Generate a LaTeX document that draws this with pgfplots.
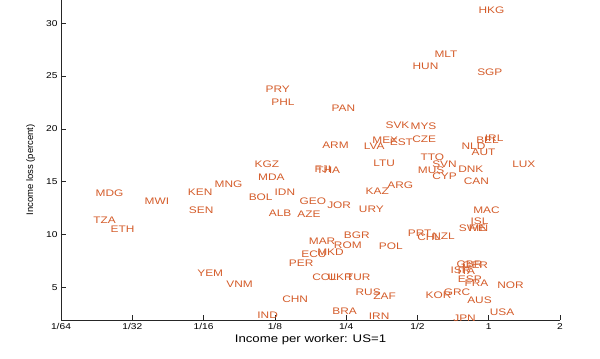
\documentclass[border=0pt]{standalone}
\usepackage{fontspec}
\setmainfont{Liberation Sans}
\usepackage{graphicx}
\usepackage{pgfplots}
\pgfplotsset{compat=1.18}
\usepackage{pgfplotstable}
\definecolor{lab}{RGB}{212,92,42}
\newcommand{\sx}[1]{\scalebox{1.2}[1]{#1}}
\newcommand{\slab}[1]{\scalebox{1.25}[1]{#1}}

% x = log2(income per worker, US=1), y = income loss (percent)
\pgfplotstableread{
x y label
-0.144 31.19 HKG
-0.762 27.09 MLT
-1.070 25.89 HUN
-0.163 25.32 SGP
-3.132 23.75 PRY
-3.052 22.52 PHL
-2.206 21.95 PAN
-1.449 20.37 SVK
-1.098 20.21 MYS
-1.074 19.01 CZE
-1.635 18.95 MEX
-1.389 18.73 EST
-1.753 18.31 LVA
-2.337 18.41 ARM
-0.177 18.95 BEL
-0.056 19.11 IRL
-0.383 18.38 NLD
-0.243 17.75 AUT
-0.958 17.27 TTO
-3.286 16.65 KGZ
-1.621 16.74 LTU
-0.794 16.65 SVN
0.328 16.65 LUX
-0.430 16.17 DNK
-2.445 16.15 FJI
-2.420 16.08 THA
-0.995 16.04 MUS
-0.794 15.47 CYP
-3.236 15.42 MDA
-0.351 15.07 CAN
-3.847 14.75 MNG
-1.425 14.62 ARG
-1.729 14.12 KAZ
-4.222 14.00 KEN
-3.006 14.00 IDN
-5.516 13.90 MDG
-3.369 13.48 BOL
-4.829 13.17 MWI
-2.655 13.17 GEO
-2.267 12.73 JOR
-1.823 12.41 URY
-4.208 12.32 SEN
-0.219 12.32 MAC
-3.086 12.01 ALB
-2.687 11.94 AZE
-5.548 11.37 TZA
-0.257 11.21 ISL
-0.421 10.59 SWE
-0.280 10.59 FIN
-5.306 10.52 ETH
-1.136 10.11 PRT
-2.034 9.95 BGR
-0.794 9.79 NZL
-1.004 9.70 CHL
-2.525 9.32 MAR
-2.174 9.01 ROM
-1.543 8.91 POL
-2.407 8.31 MKD
-2.631 8.12 ECU
-2.805 7.27 PER
-0.453 7.21 GBR
-0.373 7.11 GER
-0.537 6.57 ISR
-0.440 6.50 ITA
-4.090 6.33 YEM
-2.477 5.91 COL
-2.262 5.91 UKR
-2.004 5.91 TUR
-0.434 5.76 ESP
-0.341 5.38 FRA
-3.683 5.31 VNM
0.118 5.22 NOR
-1.870 4.49 RUS
-0.631 4.49 GRC
-0.888 4.27 KOR
-1.621 4.11 ZAF
-2.898 3.90 CHN
-0.303 3.80 AUS
-2.196 2.76 BRA
0.014 2.59 USA
-3.248 2.31 IND
-1.683 2.22 IRN
-0.499 2.06 JPN
}\data

\begin{document}
\begin{tikzpicture}
\path[use as bounding box] (0,0) rectangle (600bp,359bp);
\begin{axis}[
  at={(61bp,39bp)}, anchor=south west,
  scale only axis, width=499bp, height=320bp,
  xmin=-6, xmax=1, ymin=1.9, ymax=32.2,
  axis x line*=bottom, axis y line*=left,
  axis line style={black!85, line width=0.5bp},
  every tick/.style={black!85, line width=0.5bp},
  tick align=inside, major tick length=5bp,
  xtick={-6,-5,-4,-3,-2,-1,0,1},
  xticklabels={\sx{1/64},\sx{1/32},\sx{1/16},\sx{1/8},\sx{1/4},\sx{1/2},\sx{1},\sx{2}},
  ytick={5,10,15,20,25,30},
  yticklabels={\sx{5},\sx{10},\sx{15},\sx{20},\sx{25},\sx{30}},
  x tick label style={font=\fontsize{8.5bp}{10bp}\selectfont},
  y tick label style={font=\fontsize{8.5bp}{10bp}\selectfont},
  xlabel={\sx{Income per worker: US=1}},
  xlabel style={font=\fontsize{11bp}{13bp}\selectfont, at={(axis description cs:0.5,0)}, anchor=center, yshift=-20bp},
  ylabel={Income loss (percent)},
  ylabel style={font=\fontsize{9.5bp}{11bp}\selectfont, at={(axis description cs:-0.0607,0.469)}, anchor=center},
  clip=false,
]
\addplot[draw=none, mark=none,
  nodes near coords={\slab{\pgfplotspointmeta}},
  point meta=explicit symbolic,
  every node near coord/.append style={anchor=west, inner sep=0pt, text=lab, font=\fontsize{9.5bp}{11bp}\selectfont},
] table[x=x, y=y, meta=label] {\data};
\end{axis}
\end{tikzpicture}
\end{document}
